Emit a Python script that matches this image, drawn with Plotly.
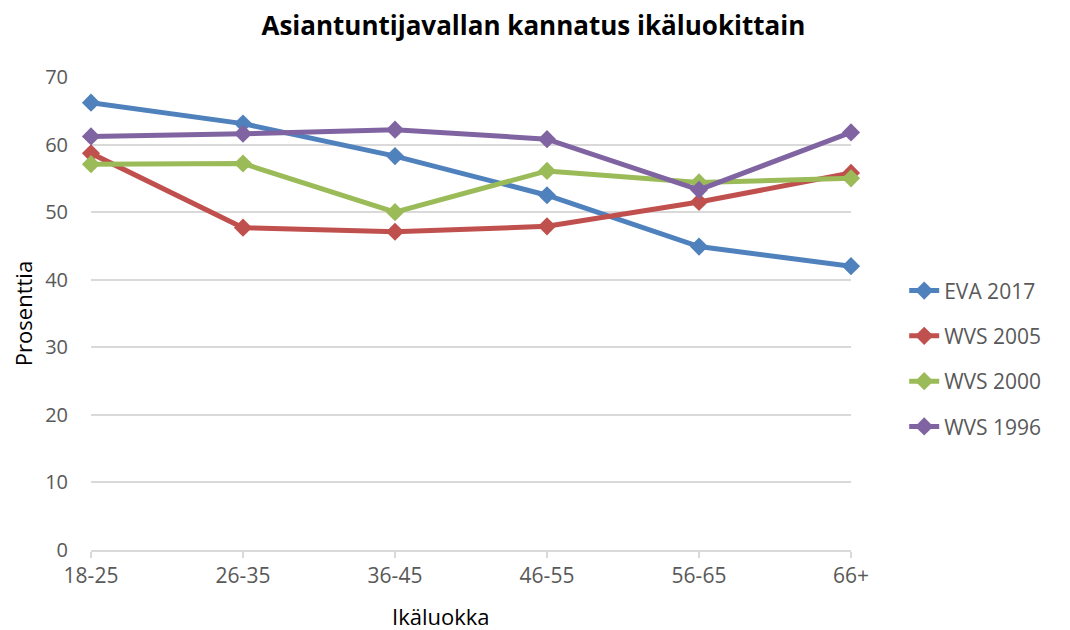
import plotly.graph_objects as go

categories = ["18-25", "26-35", "36-45", "46-55", "56-65", "66+"]
eva_2017 = [66.2, 63.1, 58.3, 52.5, 44.9, 42.0]
wvs_2005 = [58.7, 47.7, 47.1, 47.9, 51.5, 55.8]
wvs_2000 = [57.1, 57.2, 50.0, 56.1, 54.4, 55.0]
wvs_1996 = [61.2, 61.6, 62.2, 60.8, 53.3, 61.8]
series_names = ["EVA 2017", "WVS 2005", "WVS 2000", "WVS 1996"]
colors = ["#4F81BD", "#C0504D", "#9BBB59", "#8064A2"]

fig = go.Figure()
for i, (name, vals) in enumerate(zip(series_names, [eva_2017, wvs_2005, wvs_2000, wvs_1996])):
    fig.add_trace(go.Scatter(
        x=categories, y=vals, name=name, mode="lines+markers",
        line=dict(color=colors[i], width=5),
        marker=dict(symbol="diamond", size=14, color=colors[i]),
        cliponaxis=False, legendgroup=name,
    ))

font_family = "Open Sans, Liberation Sans, sans-serif"
fig.update_layout(
    width=1070, height=630,
    margin=dict(l=83, r=227, t=69, b=88),
    paper_bgcolor="white", plot_bgcolor="white",
    title=dict(text="<b>Asiantuntijavallan kannatus ikäluokittain</b>",
               x=0.491, xanchor="center", y=0.971, yanchor="middle",
               font=dict(family=font_family, size=26, color="black")),
    font=dict(family=font_family, size=20, color="#595959"),
    legend=dict(x=1.07, xanchor="left", y=0.404, yanchor="middle",
                font=dict(size=21, color="#595959"), tracegroupgap=15),
    showlegend=True,
    annotations=[dict(text="Ikäluokka", xref="paper", yref="paper",
                      x=0.4605, y=0, xanchor="center", yanchor="middle",
                      yshift=-66, showarrow=False,
                      font=dict(family=font_family, size=22, color="black"))],
)
fig.update_xaxes(
    type="category", range=[0, 5], showgrid=False,
    showline=True, linecolor="#d9d9d9", linewidth=1.5,
    ticks="outside", ticklen=6, tickcolor="#d9d9d9", tickwidth=1.5,
    tickfont=dict(size=21, color="#595959"),
)
fig.update_yaxes(
    range=[0, 70], dtick=10, showgrid=True, gridcolor="#d9d9d9", gridwidth=1.5,
    zeroline=False, showline=False, ticks="", ticklabelstandoff=22,
    tickfont=dict(size=20, color="#595959"),
    title=dict(text="Prosenttia", font=dict(size=22, color="black"), standoff=10),
)
fig.write_html("out.html")
